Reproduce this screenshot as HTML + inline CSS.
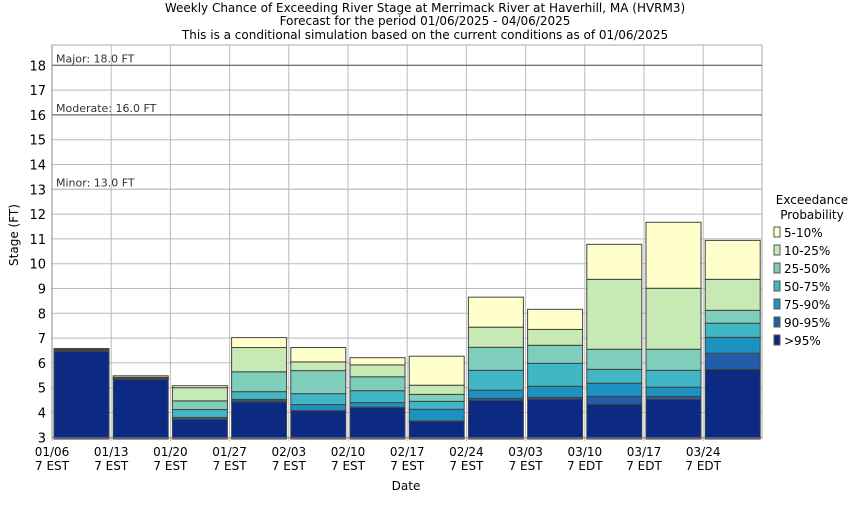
<!DOCTYPE html>
<html><head><meta charset="utf-8"><style>
body{margin:0;background:#fff;}
svg{font-family:"DejaVu Sans","Liberation Sans",sans-serif;}
</style></head><body>
<svg id="c" width="850" height="500" viewBox="0 0 850 500">
<g font-size="12" fill="#000" text-anchor="middle">
<text x="425" y="12">Weekly Chance of Exceeding River Stage at Merrimack River at Haverhill, MA (HVRM3)</text>
<text x="425" y="25">Forecast for the period 01/06/2025 - 04/06/2025</text>
<text x="425" y="39">This is a conditional simulation based on the current conditions as of 01/06/2025</text>
</g>
<rect x="52" y="45" width="710" height="393" fill="#fff" stroke="#aaa"/>
<g id="grid"></g>
<g id="bars"></g>
<g id="axes"></g>
<text x="18" y="235" font-size="12" text-anchor="middle" transform="rotate(-90 18 235)">Stage (FT)</text>
<text x="406" y="490" font-size="12" text-anchor="middle">Date</text>
<g id="legend" font-size="12"></g>
</svg>
<script>
const categories=["01/06","01/13","01/20","01/27","02/03","02/10","02/17","02/24","03/03","03/10","03/17","03/24"];
const zones=["EST","EST","EST","EST","EST","EST","EST","EST","EST","EDT","EDT","EDT"];
const seriesNames=[">95%","90-95%","75-90%","50-75%","25-50%","10-25%","5-10%"];
const p95=[6.47,5.33,3.72,4.43,4.07,4.2,3.65,4.49,4.54,4.33,4.53,5.74];
const p90=[6.48,5.34,3.74,4.47,4.08,4.21,3.66,4.57,4.61,4.65,4.65,6.39];
const p75=[6.49,5.35,3.8,4.53,4.32,4.4,4.13,4.9,5.06,5.18,5.02,7.03];
const p50=[6.5,5.36,4.12,4.84,4.76,4.88,4.45,5.7,5.98,5.74,5.7,7.6];
const p25=[6.52,5.38,4.47,5.64,5.69,5.44,4.73,6.63,6.71,6.55,6.55,8.12];
const p10=[6.55,5.42,5.0,6.62,6.04,5.92,5.1,7.44,7.35,9.37,9.01,9.37];
const p5=[6.58,5.48,5.08,7.02,6.62,6.21,6.27,8.65,8.16,10.78,11.67,10.94];
const yTicks=[3,4,5,6,7,8,9,10,11,12,13,14,15,16,17,18];
const floodLevels=[18,16,13];
const floodLabels=["Major: 18.0 FT","Moderate: 16.0 FT","Minor: 13.0 FT"];
const colors=["#0c2a82","#225ea8","#1d91c0","#41b6c4","#7fcdbb","#c7e9b4","#ffffcc"];
const NS="http://www.w3.org/2000/svg";
const y=v=>437.3-(v-3)*24.8;
const x=i=>52+i*59.2;
function mk(t,a,p){const e=document.createElementNS(NS,t);for(const k in a)e.setAttribute(k,a[k]);p.appendChild(e);return e;}
const grid=document.getElementById('grid'),bars=document.getElementById('bars'),axes=document.getElementById('axes'),leg=document.getElementById('legend');
yTicks.forEach(v=>{
 const l=mk('line',{x1:52,x2:762,y1:y(v),y2:y(v),stroke:'#bbb'},grid);
 
 
 const t=mk('text',{x:46,y:y(v)+5,'font-size':13,'text-anchor':'end'},axes);t.textContent=v;
 
 
});
categories.forEach((c,i)=>{
 const l=mk('line',{x1:x(i),x2:x(i),y1:45,y2:441,stroke:'#bbb'},grid);
 
 
 const t=mk('text',{x:x(i),y:456,'font-size':12,'text-anchor':'middle'},axes);t.textContent=c;
 
 
 const t2=mk('text',{x:x(i),y:470,'font-size':12,'text-anchor':'middle'},axes);t2.textContent='7 '+zones[i];
 
 
});
floodLevels.forEach((v,k)=>{
 const l=mk('line',{x1:52,x2:762,y1:y(v),y2:y(v),stroke:k<2?'#555':'#bbb'},grid);
 
 
 const t=mk('text',{x:56,y:y(v)-3,'font-size':11,fill:'#333'},grid);t.textContent=floodLabels[k];
 
 
});
const layers=[p95,p90,p75,p50,p25,p10,p5];
categories.forEach((c,i)=>{
 let prev=2.93;
 layers.forEach((arr,s)=>{
  const top=arr[i];
  const r=mk('rect',{x:x(i)+2,y:y(top),width:55,height:Math.max(0,y(prev)-y(top)),fill:colors[s],stroke:'#444','stroke-width':1},bars);
  
  
  prev=top;
 });
});
mk('line',{x1:52,x2:52,y1:45,y2:438,stroke:'#888'},axes);
mk('line',{x1:52,x2:762,y1:438,y2:438,stroke:'#888'},axes);
const lt1=mk('text',{x:812,y:204,'text-anchor':'middle'},leg);lt1.textContent='Exceedance';


const lt2=mk('text',{x:812,y:219,'text-anchor':'middle'},leg);lt2.textContent='Probability';


for(let k=0;k<7;k++){
 const s=6-k, yy=227+k*18;
 const r=mk('rect',{x:774,y:yy,width:6,height:10,fill:colors[s],stroke:'#555'},leg);
 
 
 const t=mk('text',{x:784,y:yy+10},leg);t.textContent=seriesNames[s];
 
 
}
</script>
</body></html>
